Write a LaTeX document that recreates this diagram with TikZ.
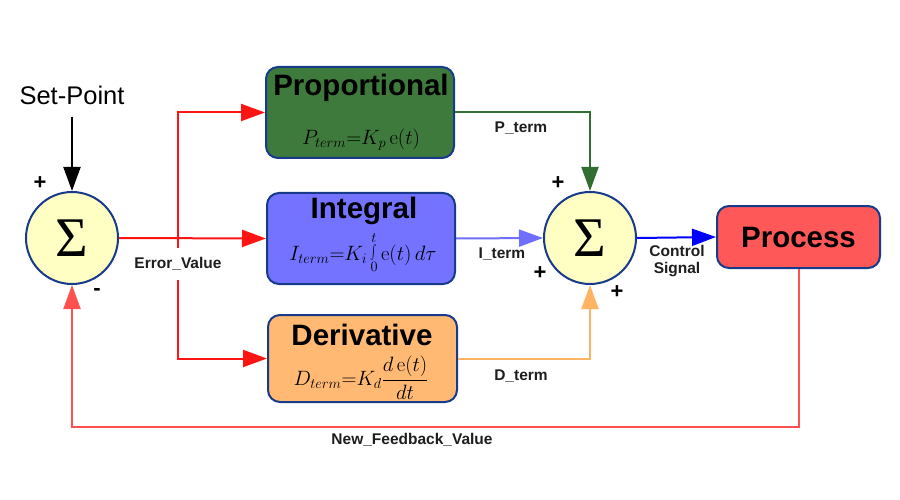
\documentclass[tikz,border=0pt]{standalone}
\usepackage[no-math]{fontspec}
\setmainfont{Liberation Sans}
\newfontfamily\seriff{Liberation Serif}
\usetikzlibrary{arrows.meta}
\definecolor{navy}{RGB}{23,58,138}
\definecolor{sumfill}{RGB}{255,255,196}
\definecolor{propfill}{RGB}{62,122,60}
\definecolor{intfill}{RGB}{115,115,255}
\definecolor{derfill}{RGB}{255,185,115}
\definecolor{procfill}{RGB}{255,88,88}
\definecolor{redline}{RGB}{255,20,20}
\definecolor{fbred}{RGB}{255,80,80}
\definecolor{pline}{RGB}{50,110,50}
\definecolor{iline}{RGB}{110,110,255}
\definecolor{dline}{RGB}{255,180,100}
\definecolor{cline}{RGB}{0,0,255}
\definecolor{lblgray}{RGB}{30,30,30}
\begin{document}
\begin{tikzpicture}[x=1pt,y=-1pt,
  box/.style={draw=navy, line width=2pt, rounded corners=12pt, inner sep=0pt},
  sumnode/.style={circle, draw=navy, line width=2pt, fill=sumfill, minimum size=92pt, inner sep=0pt, font=\fontsize{56}{56}\selectfont\seriff},
  title/.style={font=\fontsize{29.5}{31}\selectfont\bfseries, inner sep=0pt},
  lbl/.style={font=\fontsize{15.5}{17}\selectfont\bfseries, text=lblgray, align=center, inner sep=1pt},
  sign/.style={font=\fontsize{22}{22}\selectfont\bfseries},
  eq/.style={font=\fontsize{20}{22}\selectfont, inner sep=0pt},
  conn/.style={line width=2pt, -{Triangle[length=24pt,width=17pt]}},
]
\useasboundingbox (0,0) rectangle (900,500);
\fill[white] (0,0) rectangle (900,500);

% summing junctions
\node[sumnode] (s1) at (72,238) {Σ};
\node[sumnode] (s2) at (590,238) {Σ};

% blocks
\node[box, fill=propfill, minimum width=188pt, minimum height=91pt] (prop) at (360,112.5) {};
\node[box, fill=intfill, minimum width=188pt, minimum height=91pt] (int) at (361,238.5) {};
\node[box, fill=derfill, minimum width=189pt, minimum height=87pt] (der) at (362.5,358.5) {};
\node[box, fill=procfill, minimum width=163pt, minimum height=62pt, title] (proc) at (798.5,237) {Process};

% block contents
\node[title] (propt) at (361,88) {Proportional};
\node[eq] (prope) at (361,140) {$P_{term}{=}K_p\,\mathrm{e}(t)$};
\node[title] (intt) at (364,211) {Integral};
\node[eq] (inte) at (363,253) {$I_{term}{=}K_i\mathop{\scalebox{1}[1.45]{$\int$}}\limits_{0}^{t} \mathrm{e}(t)\,d\tau$};
\node[title] (dert) at (362,335) {Derivative};
\node[eq] (dere) at (361,378) {$D_{term}{=}K_d\displaystyle\frac{d\,\mathrm{e}(t)}{dt}$};

% set point
\node[font=\fontsize{25.5}{27}\selectfont] (sp) at (72,95) {Set-Point};
\draw[conn, black, shorten <=9pt] (sp.south) -- (s1.north);

% error branches
\coordinate (br) at (178,237);
\draw[conn, redline] (s1.east) -- (int.west);
\draw[conn, redline] (br) |- (prop.west);
\draw[conn, redline] (br) |- (der.west);
\node[lbl, fill=white, inner ysep=9pt] (ev) at (178,264) {Error\_Value};

% terms to second sum
\draw[conn, pline] (prop.east) -| (s2.north);
\draw[conn, iline] (int.east) -- (s2.west);
\draw[conn, dline] (der.east) -| (s2.south);
\node[lbl] (pt) at (521,128) {P\_term};
\node[lbl] (it) at (502,254) {I\_term};
\node[lbl] (dt) at (521,376) {D\_term};

% control signal
\draw[conn, cline] (s2.east) -- (proc.west);
\node[lbl, font=\fontsize{15.5}{17.5}\selectfont\bfseries] (cs) at (677,261) {Control\\Signal};

% feedback
\coordinate (fbc) at (412,427);
\draw[conn, fbred] (proc.south) |- (fbc) -| (s1.south);
\node[lbl] (fb) at (412,440) {New\_Feedback\_Value};

% signs
\node[sign] (p1) at (40,183) {+};
\node[sign] (m1) at (97,292) {-};
\node[sign] (p2) at (558,183) {+};
\node[sign] (p3) at (540,273) {+};
\node[sign] (p4) at (617,292) {+};
\end{tikzpicture}
\end{document}
